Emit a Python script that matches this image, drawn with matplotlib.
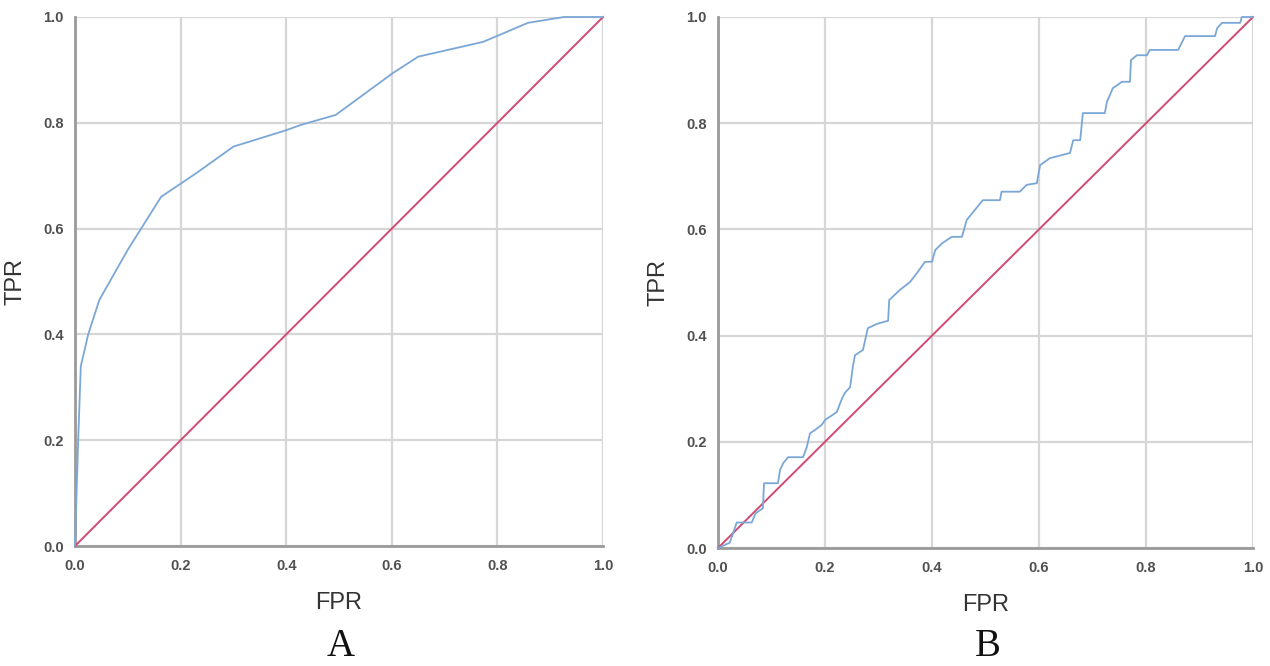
import matplotlib.pyplot as plt
import numpy as np

# ROC curve A
fpr_a = [0.0, 0.003, 0.006, 0.011, 0.025, 0.046, 0.10, 0.163, 0.23, 0.30, 0.40,
         0.428, 0.494, 0.602, 0.65, 0.773, 0.858, 0.926, 1.0]
tpr_a = [0.0, 0.10, 0.20, 0.34, 0.40, 0.465, 0.56, 0.66, 0.705, 0.755, 0.786,
         0.796, 0.815, 0.894, 0.925, 0.953, 0.989, 1.0, 1.0]

# ROC curve B (step-like)
fpr_b = [0.0, 0.022, 0.035, 0.063, 0.07, 0.084, 0.086, 0.112, 0.116, 0.122, 0.131,
         0.159, 0.166, 0.172, 0.181, 0.194, 0.2, 0.222, 0.232, 0.237, 0.247, 0.252,
         0.256, 0.271, 0.28, 0.297, 0.318, 0.32, 0.34, 0.359, 0.372, 0.387, 0.4,
         0.406, 0.419, 0.437, 0.456, 0.465, 0.495, 0.527, 0.53, 0.564, 0.577, 0.596,
         0.602, 0.62, 0.658, 0.664, 0.677, 0.682, 0.723, 0.727, 0.738, 0.755, 0.77,
         0.772, 0.783, 0.802, 0.807, 0.86, 0.873, 0.929, 0.933, 0.942, 0.976, 0.979, 1.0]
tpr_b = [0.0, 0.01, 0.048, 0.048, 0.065, 0.075, 0.122, 0.122, 0.147, 0.16, 0.171,
         0.171, 0.19, 0.216, 0.222, 0.232, 0.241, 0.256, 0.282, 0.292, 0.303, 0.341,
         0.363, 0.373, 0.414, 0.422, 0.428, 0.467, 0.486, 0.501, 0.518, 0.539, 0.539,
         0.561, 0.574, 0.586, 0.586, 0.618, 0.655, 0.655, 0.671, 0.671, 0.684, 0.687,
         0.721, 0.734, 0.744, 0.768, 0.768, 0.819, 0.819, 0.84, 0.866, 0.878, 0.878,
         0.919, 0.928, 0.928, 0.938, 0.938, 0.964, 0.964, 0.979, 0.989, 0.989, 1.0, 1.0]

ref_line = [0.0, 1.0]
ticks = [0.0, 0.2, 0.4, 0.6, 0.8, 1.0]
tick_labels = ["0.0", "0.2", "0.4", "0.6", "0.8", "1.0"]

blue = "#7ba7d7"
red = "#d04a72"

fig = plt.figure(figsize=(12.7, 6.66), dpi=100)
ax_a = fig.add_axes([75 / 1270, 1 - 546 / 666, 528 / 1270, 529 / 666])
ax_b = fig.add_axes([718 / 1270, 1 - 548 / 666, 535 / 1270, 531 / 666])

for ax, fx, ty, letter in [(ax_a, fpr_a, tpr_a, "A"), (ax_b, fpr_b, tpr_b, "B")]:
    ax.set_xlim(0, 1)
    ax.set_ylim(0, 1)
    ax.set_xticks(ticks)
    ax.set_yticks(ticks)
    ax.set_xticklabels(tick_labels, family="Liberation Sans", fontsize=10.5,
                       fontweight="bold", color="#505050")
    ax.set_yticklabels(tick_labels, family="Liberation Sans", fontsize=10.5,
                       fontweight="bold", color="#505050")
    ax.tick_params(length=0)
    ax.tick_params(axis="x", pad=9)
    ax.tick_params(axis="y", pad=8)
    ax.grid(True, color="#d6d6d6", linewidth=1.6)
    ax.set_axisbelow(True)
    for s in ["top", "right"]:
        ax.spines[s].set_visible(False)
    for s in ["left", "bottom"]:
        ax.spines[s].set_color("#9a9a9a")
        ax.spines[s].set_linewidth(2)
    ax.plot(ref_line, ref_line, color=red, linewidth=1.4, clip_on=False, zorder=3)
    ax.plot(fx, ty, color=blue, linewidth=1.3, clip_on=False, zorder=4)
    ax.set_xlabel("FPR", family="Liberation Sans", fontsize=17, color="#333333", labelpad=14)
    ax.set_ylabel("TPR", family="Liberation Sans", fontsize=17, color="#333333", labelpad=12)
    pos = ax.get_position()
    fig.text((pos.x0 + pos.x1) / 2 + 2 / 1270, 1 - 647 / 666, letter,
             family=["Liberation Serif", "DejaVu Serif"], fontsize=28,
             ha="center", va="center", color="#111111")

fig.savefig("out.png", dpi=100)
